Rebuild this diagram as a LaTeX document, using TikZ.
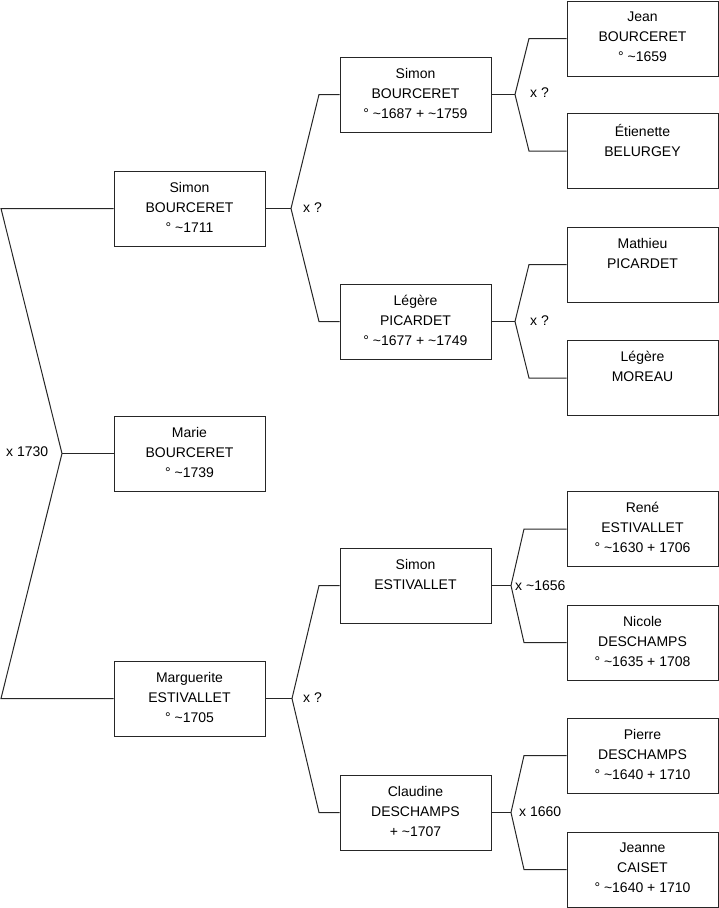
\documentclass[tikz,border=0pt]{standalone}
\usepackage{fontspec}
\setmainfont{Liberation Sans}
\newcommand{\famtext}[1]{\parbox[c][75pt][t]{151pt}{\centering\fontsize{14}{20}\selectfont\vspace*{11pt}#1}}
\tikzset{
  person/.style={draw=black!85, line width=1pt, inner sep=0pt, minimum width=151pt, minimum height=75pt},
  link/.style={draw=black!85, line width=1pt},
  marr/.style={inner sep=0pt, font=\fontsize{14}{20}\selectfont}
}
\begin{document}
\begin{tikzpicture}[x=1pt,y=-1pt]
\useasboundingbox (0,0) rectangle (719,908);
% generation 1
\node[person] (sb1) at (189.5,208.5) {\famtext{Simon\\BOURCERET\\° \textasciitilde1711}};
\node[person] (marie) at (189.5,453.5) {\famtext{Marie\\BOURCERET\\° \textasciitilde1739}};
\node[person] (marg) at (189.5,698.5) {\famtext{Marguerite\\ESTIVALLET\\° \textasciitilde1705}};
% generation 2
\node[person] (sb2) at (415.5,94.5) {\famtext{Simon\\BOURCERET\\° \textasciitilde1687 + \textasciitilde1759}};
\node[person] (lp) at (415.5,321.5) {\famtext{Légère\\PICARDET\\° \textasciitilde1677 + \textasciitilde1749}};
\node[person] (se) at (415.5,585.5) {\famtext{Simon\\ESTIVALLET}};
\node[person] (cd) at (415.5,812.5) {\famtext{Claudine\\DESCHAMPS\\+ \textasciitilde1707}};
% generation 3
\node[person] (jean) at (642.5,38.5) {\famtext{Jean\\BOURCERET\\° \textasciitilde1659}};
\node[person] (etie) at (642.5,151) {\famtext{Étienette\\BELURGEY}};
\node[person] (math) at (642.5,264.5) {\famtext{Mathieu\\PICARDET}};
\node[person] (lm) at (642.5,378) {\famtext{Légère\\MOREAU}};
\node[person] (rene) at (642.5,529) {\famtext{René\\ESTIVALLET\\° \textasciitilde1630 + 1706}};
\node[person] (nico) at (642.5,642.5) {\famtext{Nicole\\DESCHAMPS\\° \textasciitilde1635 + 1708}};
\node[person] (pier) at (642.5,755.5) {\famtext{Pierre\\DESCHAMPS\\° \textasciitilde1640 + 1710}};
\node[person] (jean2) at (642.5,869.5) {\famtext{Jeanne\\CAISET\\° \textasciitilde1640 + 1710}};
% coordinates
\coordinate (j0) at (62,453.5);
\coordinate (t0) at (1,208.5);
\coordinate (b0) at (1,698.5);
\coordinate (j1) at (291,208.5);
\coordinate (j1a) at (319,94.5);
\coordinate (j1b) at (319,321.5);
\coordinate (j2) at (292,698.5);
\coordinate (j2a) at (319,585.5);
\coordinate (j2b) at (319,812.5);
\coordinate (j3) at (515,94.5);
\coordinate (j3a) at (529,38.5);
\coordinate (j3b) at (529,151);
\coordinate (j4) at (515,321.5);
\coordinate (j4a) at (529,264.5);
\coordinate (j4b) at (529,378);
\coordinate (j5) at (511,585.5);
\coordinate (j5a) at (524,529);
\coordinate (j5b) at (524,642.5);
\coordinate (j6) at (511,812.5);
\coordinate (j6a) at (524,755.5);
\coordinate (j6b) at (524,869.5);
% connectors
\draw[link] (sb1.west) -- (t0) -- (j0) -- (b0) -- (marg.west);
\draw[link] (j0) -- (marie.west);
\draw[link] (sb1.east) -- (j1);
\draw[link] (sb2.west) -- (j1a) -- (j1) -- (j1b) -- (lp.west);
\draw[link] (marg.east) -- (j2);
\draw[link] (se.west) -- (j2a) -- (j2) -- (j2b) -- (cd.west);
\draw[link] (sb2.east) -- (j3);
\draw[link] (jean.west) -- (j3a) -- (j3) -- (j3b) -- (etie.west);
\draw[link] (lp.east) -- (j4);
\draw[link] (math.west) -- (j4a) -- (j4) -- (j4b) -- (lm.west);
\draw[link] (se.east) -- (j5);
\draw[link] (rene.west) -- (j5a) -- (j5) -- (j5b) -- (nico.west);
\draw[link] (cd.east) -- (j6);
\draw[link] (pier.west) -- (j6a) -- (j6) -- (j6b) -- (jean2.west);
% marriage labels
\node[marr, anchor=west] (m0) at (6,452) {x 1730};
\node[marr, anchor=west] (m1) at (303,208) {x ?};
\node[marr, anchor=west] (m2) at (303,698) {x ?};
\node[marr, anchor=west] (m3) at (530,93) {x ?};
\node[marr, anchor=west] (m4) at (530,321) {x ?};
\node[marr, anchor=west] (m5) at (515,586) {x \textasciitilde1656};
\node[marr, anchor=west] (m6) at (519,812) {x 1660};
\end{tikzpicture}
\end{document}
